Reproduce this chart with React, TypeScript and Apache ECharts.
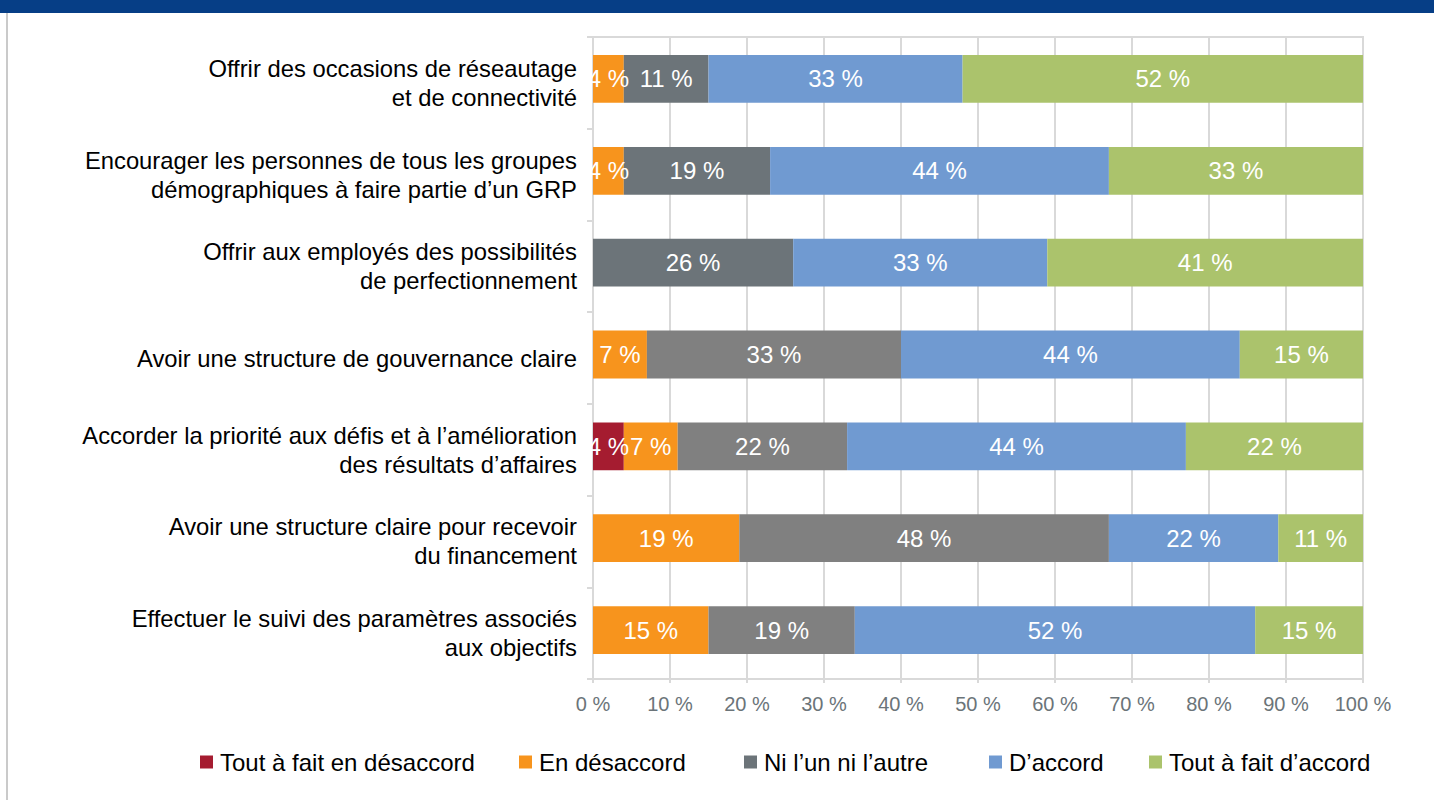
import React, { useEffect, useRef } from "react";
import * as echarts from "echarts";

const categories = [
  "Offrir des occasions de réseautage\net de connectivité",
  "Encourager les personnes de tous les groupes\ndémographiques à faire partie d’un GRP",
  "Offrir aux employés des possibilités\nde perfectionnement",
  "Avoir une structure de gouvernance claire",
  "Accorder la priorité aux défis et à l’amélioration\ndes résultats d’affaires",
  "Avoir une structure claire pour recevoir\ndu financement",
  "Effectuer le suivi des paramètres associés\naux objectifs",
];

const seriesNames = [
  "Tout à fait en désaccord",
  "En désaccord",
  "Ni l’un ni l’autre",
  "D’accord",
  "Tout à fait d’accord",
];

const toutAFaitDesaccord = [0, 0, 0, 0, 4, 0, 0];
const enDesaccord = [4, 4, 0, 7, 7, 19, 15];
const niLunNiLautre = [11, 19, 26, 33, 22, 48, 19];
const dAccord = [33, 44, 33, 44, 44, 22, 52];
const toutAFaitDAccord = [52, 33, 41, 15, 22, 11, 15];

const valueTicks = [0, 10, 20, 30, 40, 50, 60, 70, 80, 90, 100];

const colors = ["#A51C30", "#F7941D", "#6C7479", "#709AD1", "#ABC36C"];
const neutralLight = "#808080";

const FONT = "Arial, 'Liberation Sans', Helvetica, sans-serif";

export default function App() {
  const ref = useRef<HTMLDivElement>(null);

  useEffect(() => {
    if (!ref.current) return;
    const chart = echarts.init(ref.current, undefined, { renderer: "svg" });

    const allData = [toutAFaitDesaccord, enDesaccord, niLunNiLautre, dAccord, toutAFaitDAccord];
    const total = valueTicks[valueTicks.length - 1];

    const series = allData.map((arr, si) => ({
      name: seriesNames[si],
      type: "bar",
      stack: "total",
      xAxisIndex: 1,
      yAxisIndex: 1,
      barCategoryGap: "48%",
      itemStyle: { color: colors[si] },
      label: {
        show: true,
        position: "inside",
        color: "#FFFFFF",
        fontSize: 24,
        fontFamily: FONT,
        formatter: (p: any) => (p.data.shown > 0 ? p.data.shown + " %" : ""),
      },
      data: arr.map((v, i) => {
        let len = v;
        if (si === allData.length - 1) {
          // last segment runs to the end of the 100 % bar, as in the source chart
          const before = allData.slice(0, si).reduce((s, a) => s + a[i], 0);
          len = total - before;
        }
        const item: any = { value: len, shown: v };
        if (si === 2 && i >= 3) item.itemStyle = { color: neutralLight };
        return item;
      }),
    }));

    const legendLefts = [200, 519, 744, 989, 1149];
    const legends = seriesNames.map((n, i) => ({
      data: [n],
      left: legendLefts[i],
      top: 750,
      padding: 0,
      itemWidth: 13,
      itemHeight: 13,
      icon: "rect",
      selectedMode: false,
      textStyle: {
        fontSize: 24,
        fontFamily: FONT,
        color: "#000000",
        padding: [0, 0, 0, 2],
      },
    }));

    chart.setOption({
      animation: false,
      backgroundColor: "#FFFFFF",
      legend: legends,
      grid: [
        {
          left: 593,
          right: 71,
          top: 37,
          bottom: 121,
          show: true,
          borderColor: "#D9D9D9",
          borderWidth: 2,
          containLabel: false,
        },
        {
          left: 593,
          right: 71,
          top: 33,
          bottom: 124,
          show: false,
          containLabel: false,
        },
      ],
      xAxis: [
        {
          type: "value",
          gridIndex: 0,
          min: valueTicks[0],
          max: total,
          interval: 10,
          axisLine: { show: true, lineStyle: { color: "#D9D9D9", width: 2 } },
          axisTick: { show: true, length: 4, lineStyle: { color: "#D9D9D9", width: 2 } },
          splitLine: { show: true, lineStyle: { color: "#D9D9D9", width: 2 } },
          axisLabel: {
            formatter: "{value} %",
            fontSize: 20,
            fontFamily: FONT,
            color: "#6B7479",
            margin: 15,
          },
        },
        {
          type: "value",
          gridIndex: 1,
          min: valueTicks[0],
          max: total,
          show: false,
          splitLine: { show: false },
        },
      ],
      yAxis: [
        {
          type: "category",
          gridIndex: 0,
          inverse: true,
          data: categories,
          axisLine: { show: true, lineStyle: { color: "#D9D9D9", width: 2 } },
          axisTick: { show: true, length: 6, lineStyle: { color: "#D9D9D9", width: 2 } },
          axisLabel: {
            fontSize: 23.8,
            fontFamily: FONT,
            color: "#000000",
            margin: 16,
            lineHeight: 29,
            align: "right",
          },
        },
        {
          type: "category",
          gridIndex: 1,
          inverse: true,
          data: categories,
          show: false,
        },
      ],
      graphic: [
        {
          type: "rect",
          shape: { x: 0, y: 0, width: 1434, height: 13 },
          style: { fill: "#063E86" },
          silent: true,
        },
        {
          type: "line",
          shape: { x1: 7, y1: 13, x2: 7, y2: 800 },
          style: { stroke: "#CACACA", lineWidth: 2 },
          silent: true,
        },
      ],
      series,
    });

    return () => {
      chart.dispose();
    };
  }, []);

  return (
    <div
      ref={ref}
      style={{ position: "fixed", left: 0, top: 0, width: 1434, height: 800 }}
    />
  );
}
